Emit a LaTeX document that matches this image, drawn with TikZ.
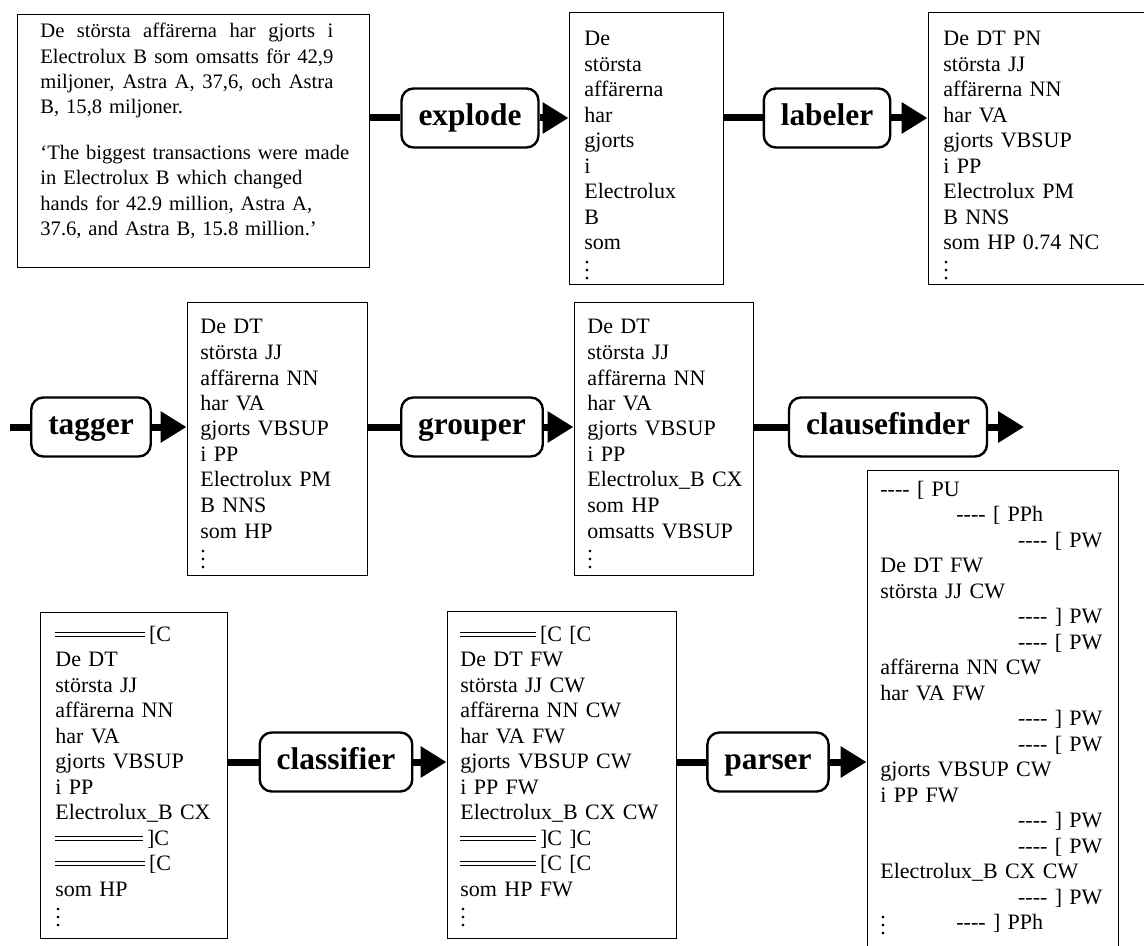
\documentclass[tikz,border=0pt]{standalone}
\usepackage{fontspec}
\setmainfont{Liberation Serif}
\usetikzlibrary{positioning,arrows.meta,fit}
\newcommand{\brkdash}{-{}-{}-{}-}
\newcommand{\clauserule}[1]{\leavevmode\rlap{\rule[4.1pt]{#1}{0.45pt}}\rule[2.1pt]{#1}{0.45pt}}
\newcommand{\moredots}{\\[2.25pt]\smash{$\vdots$}}
\newcommand{\fullline}[1]{\makebox[146.5pt][s]{\spaceskip=0pt\xspaceskip=0pt #1}}
\tikzset{
  box/.style={draw,line width=0.5pt,inner sep=0pt},
  listing/.style={anchor=base west,inner sep=0pt,text width=#1,align=left,
    font=\fontsize{11}{12.75}\selectfont},
  proc/.style={draw,line width=1.2pt,rounded corners=6pt,minimum height=29.5pt,
    inner xsep=8.5pt,text height=11pt,text depth=3.5pt,
    font=\fontsize{15.7}{18}\selectfont\bfseries},
  pipe/.style={line width=3.5pt},
  feed/.style={line width=3.5pt,-{Triangle[length=13pt,width=15pt]}}
}

\begin{document}
\begin{tikzpicture}[x=0.5pt,y=-0.5pt]
  \useasboundingbox (0,0) rectangle (1144,946);

  \node[box,fit={(17,15)(369,268)}] (source) {};
  \node[listing=170pt,font=\fontsize{10.3}{12.6}\selectfont] (source-txt) at (40,38)
    {\fullline{De största affärerna har gjorts i}\\
     \fullline{Electrolux B som omsatts för 42,9}\\
     \fullline{miljoner, Astra A, 37,6, och Astra}\\
     B, 15,8 miljoner.\\[10.5pt]
     `The biggest transactions were made\\
     in Electrolux B which changed\\
     hands for 42.9 million, Astra A,\\
     37.6, and Astra B, 15.8 million.'};

  \node[box,fit={(569,13)(723,285)}] (words) {};
  \node[listing=70pt] (words-txt) at (584,46)
    {De\\ största\\ affärerna\\ har\\ gjorts\\ i\\ Electrolux\\ B\\ som\moredots};

  \node[box,fit={(928,13)(1150,285)}] (labelled) {};
  \node[listing=95pt] (labelled-txt) at (943,46)
    {De DT PN\\ största JJ\\ affärerna NN\\ har VA\\ gjorts VBSUP\\ i PP\\
     Electrolux PM\\ B NNS\\ som HP 0.74 NC\moredots};

  \node[box,fit={(187,303)(367,575)}] (tagged) {};
  \node[listing=80pt] (tagged-txt) at (200,334)
    {De DT\\ största JJ\\ affärerna NN\\ har VA\\ gjorts VBSUP\\ i PP\\
     Electrolux PM\\ B NNS\\ som HP\moredots};

  \node[box,fit={(574,303)(753,575)}] (grouped) {};
  \node[listing=80pt] (grouped-txt) at (587,334)
    {De DT\\ största JJ\\ affärerna NN\\ har VA\\ gjorts VBSUP\\ i PP\\
     Electrolux\_B CX\\ som HP\\ omsatts VBSUP\moredots};

  \node[box,fit={(40,612)(227,938)}] (clauses) {};
  \node[listing=85pt] (clauses-txt) at (55,641)
    {\clauserule{45pt}\,[C\\ De DT\\ största JJ\\ affärerna NN\\ har VA\\
     gjorts VBSUP\\ i PP\\ Electrolux\_B CX\\ \clauserule{44pt}\,]C\\
     \clauserule{45pt}\,[C\\ som HP\moredots};

  \node[box,fit={(447,611)(676,938)}] (classified) {};
  \node[listing=105pt] (classified-txt) at (460,641)
    {\clauserule{38pt}\,[C [C\\ De DT FW\\ största JJ CW\\ affärerna NN CW\\
     har VA FW\\ gjorts VBSUP CW\\ i PP FW\\ Electrolux\_B CX CW\\
     \clauserule{38pt}\,]C ]C\\ \clauserule{38pt}\,[C [C\\ som HP FW\moredots};

  \node[box,fit={(867,470)(1118,952)}] (parsed) {};
  \node[listing=111pt] (parsed-txt) at (880,496)
    {\brkdash\ [ PU\\
     \hspace*{38pt}\brkdash\ [ PPh\\
     \hspace*{\fill}\brkdash\ [ PW\\
     De DT FW\\ största JJ CW\\
     \hspace*{\fill}\brkdash\ ] PW\\
     \hspace*{\fill}\brkdash\ [ PW\\
     affärerna NN CW\\ har VA FW\\
     \hspace*{\fill}\brkdash\ ] PW\\
     \hspace*{\fill}\brkdash\ [ PW\\
     gjorts VBSUP CW\\ i PP FW\\
     \hspace*{\fill}\brkdash\ ] PW\\
     \hspace*{\fill}\brkdash\ [ PW\\
     Electrolux\_B CX CW\\
     \hspace*{\fill}\brkdash\ ] PW\\
     \makebox[38pt][l]{\smash{\raisebox{-2.5pt}{$\vdots$}}}\brkdash\ ] PPh};

  \node[proc] (explode) at (470,118) {explode};
  \node[proc] (labeler) at (827,118) {labeler};
  \node[proc] (tagger) at (91,427) {tagger};
  \node[proc] (grouper) at (472,427) {grouper};
  \node[proc] (clausefinder) at (888,427) {clausefinder};
  \node[proc] (classifier) at (336,762) {classifier};
  \node[proc] (parser) at (768,762) {parser};

  \coordinate (feed-in) at (10,427);
  \coordinate (feed-out) at (1024,427);

  \draw[pipe] (source.east |- explode.west) -- (explode.west);
  \draw[feed] (explode.east) -- (explode.east -| words.west);
  \draw[pipe] (words.east |- labeler.west) -- (labeler.west);
  \draw[feed] (labeler.east) -- (labeler.east -| labelled.west);

  \draw[pipe] (feed-in) -- (tagger.west);
  \draw[feed] (tagger.east) -- (tagger.east -| tagged.west);
  \draw[pipe] (tagged.east |- grouper.west) -- (grouper.west);
  \draw[feed] (grouper.east) -- (grouper.east -| grouped.west);
  \draw[pipe] (grouped.east |- clausefinder.west) -- (clausefinder.west);
  \draw[feed] (clausefinder.east) -- (feed-out);

  \draw[pipe] (clauses.east |- classifier.west) -- (classifier.west);
  \draw[feed] (classifier.east) -- (classifier.east -| classified.west);
  \draw[pipe] (classified.east |- parser.west) -- (parser.west);
  \draw[feed] (parser.east) -- (parser.east -| parsed.west);
\end{tikzpicture}
\end{document}
